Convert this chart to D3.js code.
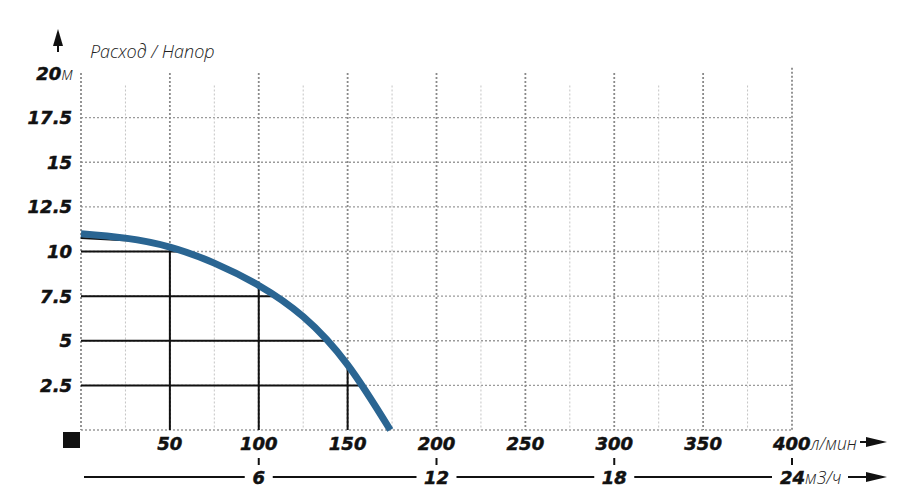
<!DOCTYPE html>
<html><head><meta charset="utf-8">
<script src="https://cdn.jsdelivr.net/npm/d3@7"></script>
<style>
html,body{margin:0;padding:0;background:#fff;}
svg{display:block;}
.num{font-family:"DejaVu Sans",sans-serif;font-weight:bold;font-style:italic;font-size:18px;fill:#111;stroke:#111;stroke-width:0.5px;}
.unit{font-family:"Open Sans",sans-serif;font-weight:300;font-style:italic;font-size:17.5px;fill:#222;}
</style></head>
<body>
<svg id="c" width="915" height="500"></svg>
<script>
// ---- data ----
const flowTicks = [50, 100, 150, 200, 250, 300, 350, 400];          // л/мин
const m3Ticks = [6, 12, 18, 24];                                     // м3/ч
const headTicks = [2.5, 5, 7.5, 10, 12.5, 15, 17.5, 20];             // м
const headLabels = ["2.5", "5", "7.5", "10", "12.5", "15", "17.5", "20"];
const curveQ = [0, 25, 50, 75, 100, 125, 150, 174];
const curveH = [11.0, 10.75, 10.25, 9.35, 8.1, 6.35, 3.65, 0];
// reference guide lines (head level -> flow at curve; flow -> head at curve)
const guideH = [10, 7.5, 5, 2.5];
const guideHQ = [57, 108, 139, 158.5];
const guideQ = [50, 100, 150];
const guideQH = [10.25, 8.1, 3.65];
const topGuideQ = [0, 30];
const topGuideH = [10.75, 10.6];

// ---- scales ----
const svg = d3.select("#c");
const x = d3.scaleLinear().domain([0, 400]).range([81, 792]);
const y = d3.scaleLinear().domain([0, 20]).range([430, 73]);
const xm3 = d3.scaleLinear().domain([0, 24]).range([81, 792]);

// ---- grid ----
const g = svg.append("g");
g.selectAll("line.h").data([0].concat(headTicks.slice(0, -1))).join("line")
  .attr("x1", x(0)).attr("x2", x(400)).attr("y1", d => y(d)).attr("y2", d => y(d))
  .attr("stroke", "#9a9a9a").attr("stroke-width", 1.3).attr("stroke-dasharray", "2,2");
g.selectAll("line.vm").data(d3.range(25, 400, 50)).join("line")
  .attr("x1", d => x(d)).attr("x2", d => x(d)).attr("y1", y(19.3)).attr("y2", y(0))
  .attr("stroke", "#c4c4c4").attr("stroke-width", 1).attr("stroke-dasharray", "2,2");
g.selectAll("line.vM").data([0].concat(flowTicks)).join("line")
  .attr("x1", d => x(d)).attr("x2", d => x(d)).attr("y1", d => d === 400 ? y(20.3) : y(20)).attr("y2", y(0))
  .attr("stroke", "#8a8a8a").attr("stroke-width", 1.8).attr("stroke-dasharray", "2,2");

// ---- guide lines ----
const gl = svg.append("g").attr("stroke", "#111").attr("stroke-width", 2);
gl.selectAll("line.gh").data(guideH).join("line")
  .attr("x1", x(0)).attr("x2", (d, i) => x(guideHQ[i])).attr("y1", d => y(d)).attr("y2", d => y(d));
gl.selectAll("line.gv").data(guideQ).join("line")
  .attr("x1", d => x(d)).attr("x2", d => x(d)).attr("y1", y(0)).attr("y2", (d, i) => y(guideQH[i]));
gl.append("line").attr("x1", x(topGuideQ[0])).attr("y1", y(topGuideH[0]))
  .attr("x2", x(topGuideQ[1])).attr("y2", y(topGuideH[1]));

// ---- curve ----
const pts = curveQ.map((q, i) => [q, curveH[i]]);
svg.append("path").datum(pts)
  .attr("d", d3.line().x(d => x(d[0])).y(d => y(d[1])).curve(d3.curveNatural))
  .attr("fill", "none").attr("stroke", "#2a6592").attr("stroke-width", 7);

// ---- y axis labels ----
const yl = svg.append("g");
headTicks.forEach((t, i) => {
  const tx = yl.append("text").attr("x", t === 20 ? 73 : 72).attr("y", y(t) + 6.5).attr("text-anchor", "end");
  tx.append("tspan").attr("class", "num").text(headLabels[i]);
  if (t === 20) tx.append("tspan").attr("class", "unit").text("м");
});
// title
svg.append("text").attr("x", 90).attr("y", 58)
  .style("font-family", "'Open Sans',sans-serif").style("font-weight", 300)
  .style("font-style", "italic").style("font-size", "18px").style("fill", "#222")
  .text("Расход / Напор");
// up arrow
svg.append("line").attr("x1", 58).attr("x2", 58).attr("y1", 40).attr("y2", 52)
  .attr("stroke", "#111").attr("stroke-width", 2);
svg.append("path").attr("d", "M58,29 L53,46 L63,46 Z").attr("fill", "#111");
// black square
svg.append("rect").attr("x", 63).attr("y", 432).attr("width", 17).attr("height", 16).attr("fill", "#111");

// ---- x axis labels (л/мин) ----
const xl = svg.append("g");
flowTicks.forEach(t => {
  if (t === 400) {
    const tx = xl.append("text").attr("x", x(t) - 19).attr("y", y(0) + 20);
    tx.append("tspan").attr("class", "num").text(t);
    tx.append("tspan").attr("class", "unit").text("л/мин");
  } else {
    xl.append("text").attr("class", "num").attr("x", x(t)).attr("y", y(0) + 20)
      .attr("text-anchor", "middle").text(t);
  }
});
svg.append("line").attr("x1", 860).attr("x2", 872).attr("y1", 442).attr("y2", 442)
  .attr("stroke", "#111").attr("stroke-width", 2);
svg.append("path").attr("d", "M887,442 L866,437 L866,447 Z").attr("fill", "#111");

// ---- second axis (м3/ч) ----
const ax2 = svg.append("g");
const rowY = 484, lineY = 477;
const halfW = [6, 12, 12, 12];
let segStart = 84;
m3Ticks.forEach((t, i) => {
  ax2.append("line").attr("x1", xm3(t)).attr("x2", xm3(t)).attr("y1", 458).attr("y2", 465)
    .attr("stroke", "#111").attr("stroke-width", 2);
  if (i === m3Ticks.length - 1) {
    const tx = ax2.append("text").attr("x", xm3(t) - halfW[i]).attr("y", rowY);
    tx.append("tspan").attr("class", "num").text(t);
    tx.append("tspan").attr("class", "unit").text("м3/ч");
  } else {
    ax2.append("text").attr("class", "num").attr("x", xm3(t)).attr("y", rowY)
      .attr("text-anchor", "middle").text(t);
  }
  ax2.append("line").attr("x1", segStart).attr("x2", xm3(t) - halfW[i] - 8).attr("y1", lineY).attr("y2", lineY)
    .attr("stroke", "#111").attr("stroke-width", 2);
  segStart = xm3(t) + halfW[i] + 8;
});
ax2.append("line").attr("x1", 848).attr("x2", 872).attr("y1", lineY).attr("y2", lineY)
  .attr("stroke", "#111").attr("stroke-width", 2);
ax2.append("path").attr("d", "M887,477 L866,472 L866,482 Z").attr("fill", "#111");
</script>
</body></html>
